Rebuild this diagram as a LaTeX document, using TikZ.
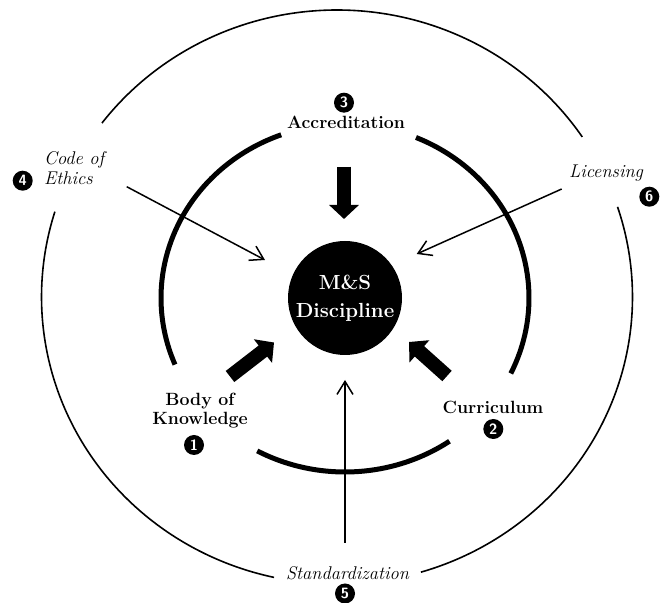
\documentclass[tikz,border=0pt]{standalone}
\usetikzlibrary{arrows.meta}
\begin{document}
\begin{tikzpicture}[x=1bp,y=1bp,
  ring/.style={line width=1.6bp},
  band/.style={line width=5bp},
  thinarrow/.style={line width=1.5bp,-{Straight Barb[length=13bp,width=16bp]}},
  blockarrow/.style={line width=14bp,-{Triangle[length=14bp,width=29bp]}},
  lbl/.style={font=\fontsize{17.8}{19.5}\selectfont\bfseries, align=center, inner sep=0pt},
  ilbl/.style={font=\fontsize{18.5}{20.5}\selectfont\itshape, inner sep=0pt},
  num/.style={circle, fill=black, text=white, minimum size=20bp, inner sep=0pt,
              font=\fontsize{15}{15}\selectfont\sffamily\bfseries},
]
\useasboundingbox (0,0) rectangle (663,603);

% outer ring (three arcs)
\draw[ring] (337,306) ++(33.9:295.5 and 287) arc[start angle=33.9, end angle=142.7, x radius=295.5, y radius=287];
\draw[ring] (337,306) ++(162.7:295.5 and 287) arc[start angle=162.7, end angle=257.7, x radius=295.5, y radius=287];
\draw[ring] (337,306) ++(-73.5:295.5 and 287) arc[start angle=-73.5, end angle=18.3, x radius=295.5, y radius=287];

% inner thick ring (three arcs)
\draw[band] (345,305) ++(110.3:184 and 174) arc[start angle=110.3, end angle=202.5, x radius=184, y radius=174];
\draw[band] (345,305) ++(-25.7:184 and 174) arc[start angle=-25.7, end angle=67.3, x radius=184, y radius=174];
\draw[band] (345,305) ++(241.5:184 and 174) arc[start angle=241.5, end angle=304.6, x radius=184, y radius=174];

% centre
\node[circle, fill=black, minimum size=114bp, inner sep=0pt, text=white, align=center,
      font=\fontsize{20.5}{28}\selectfont\bfseries] (ms) at (345,305) {M\&S\\Discipline};

% labels
\node[lbl, anchor=base] (acc) at (346,474) {Accreditation};
\node[num] (n3) at (344,500.3) {3};
\node[lbl, anchor=base] (bok) at (200,178) {Body of\\Knowledge};
\node[num] (n1) at (194,158) {1};
\node[lbl, anchor=base] (cur) at (493,189.7) {Curriculum};
\node[num] (n2) at (493.3,174) {2};
\node[ilbl, align=left, anchor=base west] (eth) at (44,418.5) {Code of\\Ethics};
\node[num] (n4) at (22.7,422.3) {4};
\node[ilbl, anchor=base] (lic) at (606,425) {Licensing};
\node[num] (n6) at (649.3,406.3) {6};
\node[ilbl, anchor=base] (std) at (347.5,23) {Standardization};
\node[num] (n5) at (345,9.5) {5};

% arrow end points
\coordinate (acc-t) at (344,436.3); \coordinate (acc-h) at (344,384);
\coordinate (bok-t) at (230,226.5); \coordinate (bok-h) at (274,260.5);
\coordinate (cur-t) at (447,227);   \coordinate (cur-h) at (409,261);
\coordinate (eth-s) at (126.7,416.3); \coordinate (eth-h) at (265,343);
\coordinate (lic-s) at (561.7,414);   \coordinate (lic-h) at (416.7,349);
\coordinate (std-s) at (345,60);      \coordinate (std-h) at (345,223);

% block arrows
\draw[blockarrow] (acc-t) -- (acc-h);
\draw[blockarrow] (bok-t) -- (bok-h);
\draw[blockarrow] (cur-t) -- (cur-h);

% thin arrows
\draw[thinarrow] (eth-s) -- (eth-h);
\draw[thinarrow] (lic-s) -- (lic-h);
\draw[thinarrow] (std-s) -- (std-h);
\end{tikzpicture}
\end{document}
